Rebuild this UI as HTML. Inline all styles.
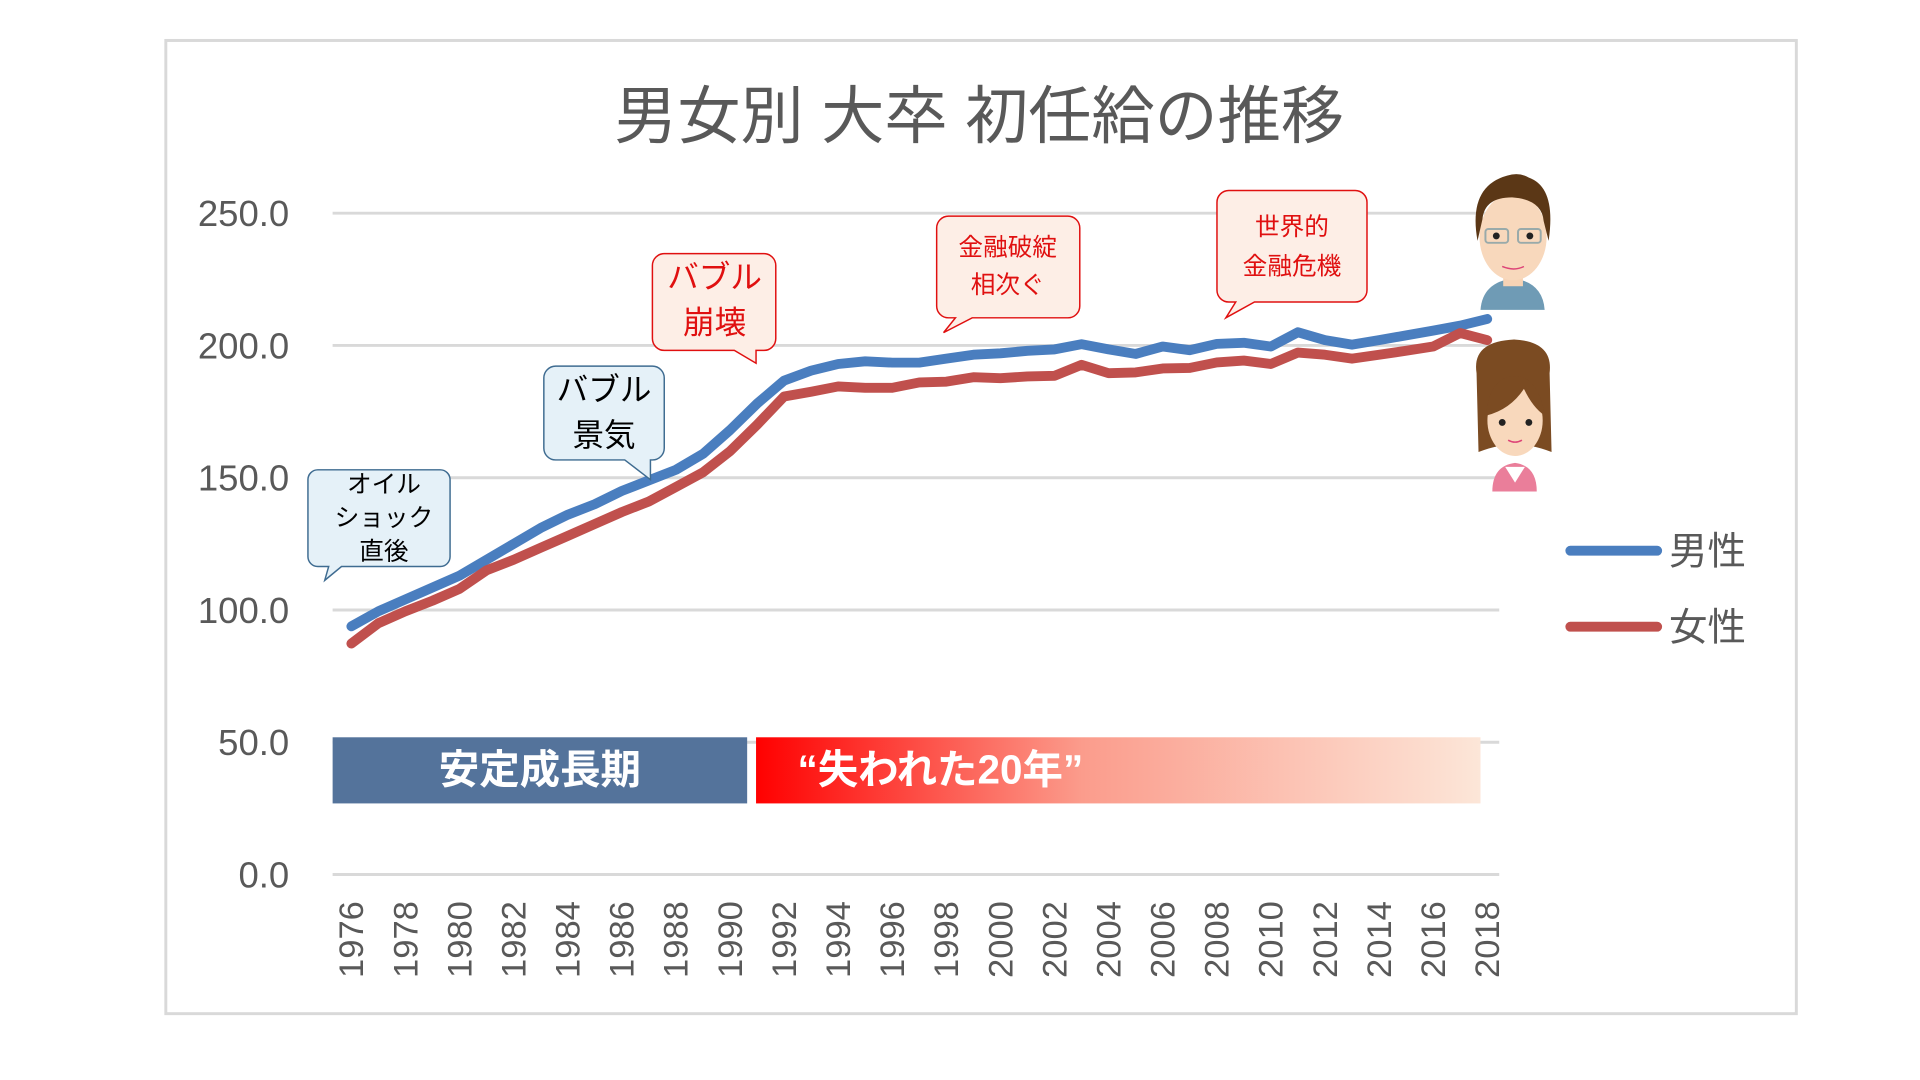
<!DOCTYPE html>
<html><head><meta charset="utf-8"><style>
html,body{margin:0;padding:0;background:#fff;}
svg{display:block;}
text{font-family:"Liberation Sans","Noto Sans CJK JP",sans-serif;}
</style></head><body>
<svg width="1920" height="1080" viewBox="0 0 1920 1080" xmlns="http://www.w3.org/2000/svg">
<defs>
<linearGradient id="rg" x1="0" x2="1" y1="0" y2="0">
<stop offset="0" stop-color="#ff0000"/><stop offset="0.45" stop-color="#fb9c8c"/><stop offset="1" stop-color="#fce6d8"/>
</linearGradient>
</defs>
<g transform="scale(0.987)">
<rect x="168" y="41" width="1652" height="986" fill="#fff" stroke="#d9d9d9" stroke-width="3"/>
<text x="992" y="140" font-size="64" fill="#595959" text-anchor="middle">男女別 大卒 初任給の推移</text>
<g stroke="#d9d9d9" stroke-width="3">
<line x1="337" x2="1519" y1="216" y2="216"/><line x1="337" x2="1519" y1="350" y2="350"/>
<line x1="337" x2="1519" y1="484" y2="484"/><line x1="337" x2="1519" y1="618" y2="618"/>
<line x1="337" x2="1519" y1="752" y2="752"/><line x1="337" x2="1519" y1="886" y2="886"/>
</g>
<g font-size="37" fill="#595959" text-anchor="end">
<text x="293" y="229">250.0</text><text x="293" y="363">200.0</text><text x="293" y="497">150.0</text>
<text x="293" y="631">100.0</text><text x="293" y="765">50.0</text><text x="293" y="899">0.0</text>
</g>
<g font-size="35" fill="#595959" text-anchor="end" id="xl"></g>
<rect x="337" y="747" width="420" height="67" fill="#54739b"/>
<rect x="766" y="747" width="734" height="67" fill="url(#rg)"/>
<text x="547" y="794" font-size="41" font-weight="bold" fill="#fff" text-anchor="middle">安定成長期</text>
<text x="808" y="794" font-size="41" font-weight="bold" fill="#fff">“失われた20年”</text>
<polyline id="m" fill="none" stroke="#4a7ebf" stroke-width="10" stroke-linejoin="round" stroke-linecap="round"/>
<polyline id="f" fill="none" stroke="#c0504d" stroke-width="10" stroke-linejoin="round" stroke-linecap="round"/>
<g font-size="25" text-anchor="middle">
<path d="M334,476 h112 a10,10 0 0 1 10,10 v78 a10,10 0 0 1 -10,10 h-100 l-17,14 l4,-14 h-11 a10,10 0 0 1 -10,-10 v-78 a10,10 0 0 1 10,-10z" fill="#e5f1f8" stroke="#3f6c91" stroke-width="1.5"/>
<text x="389" y="499">オイル</text><text x="389" y="533">ショック</text><text x="389" y="567">直後</text>
<path d="M563,371 h98 a12,12 0 0 1 12,12 v71 a12,12 0 0 1 -12,12 h-2 v20 l-26,-20 h-70 a12,12 0 0 1 -12,-12 v-71 a12,12 0 0 1 12,-12z" fill="#e5f1f8" stroke="#3f6c91" stroke-width="1.5"/>
<text x="612" y="406" font-size="32">バブル</text><text x="612" y="452" font-size="32">景気</text>
<path d="M673,257 h101 a12,12 0 0 1 12,12 v74 a12,12 0 0 1 -12,12 h-8 v13 l-22,-13 h-71 a12,12 0 0 1 -12,-12 v-74 a12,12 0 0 1 12,-12z" fill="#fdeee6" stroke="#e01010" stroke-width="1.5"/>
<text x="724" y="292" font-size="32" fill="#e01010">バブル</text><text x="724" y="338" font-size="32" fill="#e01010">崩壊</text>
<path d="M961,219 h121 a12,12 0 0 1 12,12 v79 a12,12 0 0 1 -12,12 h-97 l-29,15 l12,-15 h-7 a12,12 0 0 1 -12,-12 v-79 a12,12 0 0 1 12,-12z" fill="#fdeee6" stroke="#e01010" stroke-width="1.5"/>
<text x="1021" y="259" fill="#e01010">金融破綻</text><text x="1021" y="297" fill="#e01010">相次ぐ</text>
<path d="M1245,193 h128 a12,12 0 0 1 12,12 v89 a12,12 0 0 1 -12,12 h-102 l-29,16 l10,-16 h-7 a12,12 0 0 1 -12,-12 v-89 a12,12 0 0 1 12,-12z" fill="#fdeee6" stroke="#e01010" stroke-width="1.5"/>
<text x="1309" y="238" fill="#e01010">世界的</text><text x="1309" y="278" fill="#e01010">金融危機</text>
</g>
<g>
<path d="M1500,314 q2,-28 33,-32 q30,4 32,32z" fill="#6f9bb5"/>
<rect x="1523" y="268" width="20" height="22" fill="#f6d3b5"/>
<ellipse cx="1533" cy="240" rx="34" ry="44" fill="#f8d8bc"/>
<path d="M1497,244 q-10,-55 30,-66 q12,-4 22,2 q28,10 20,64 l-5,-20 q-2,-22 -32,-24 q-28,0 -30,22z" fill="#5b3716"/>
<rect x="1505" y="232" width="23" height="14" rx="3" fill="none" stroke="#9aa" stroke-width="2"/>
<rect x="1538" y="232" width="23" height="14" rx="3" fill="none" stroke="#9aa" stroke-width="2"/>
<circle cx="1516" cy="239" r="3.5" fill="#222"/><circle cx="1550" cy="239" r="3.5" fill="#222"/>
<path d="M1522,270 q12,5 22,0" stroke="#d47" stroke-width="1.5" fill="none"/>
</g>
<g transform="translate(0,14)">
<path d="M1496,364 q-5,-32 38,-34 q40,2 36,34 l2,80 q-10,-4 -20,-6 v-30 h-34 v30 q-10,2 -20,6z" fill="#7b4b22"/>
<path d="M1512,484 q0,-26 23,-29 q22,3 22,29z" fill="#ea7e9a"/>
<path d="M1525,459 l10,16 l10,-16z" fill="#fff"/>
<ellipse cx="1535" cy="412" rx="28" ry="36" fill="#f8d8bc"/>
<path d="M1506,407 q2,-40 31,-40 q22,2 28,40 q-12,-8 -21,-27 q-14,21 -38,27z" fill="#7b4b22"/>
<circle cx="1522" cy="414" r="3.5" fill="#222"/><circle cx="1549" cy="414" r="3.5" fill="#222"/>
<path d="M1528,432 q7,4 14,0" stroke="#d47" stroke-width="1.5" fill="none"/>
</g>
<line x1="1591" x2="1679" y1="558" y2="558" stroke="#4a7ebf" stroke-width="10" stroke-linecap="round"/>
<line x1="1591" x2="1679" y1="635" y2="635" stroke="#c0504d" stroke-width="10" stroke-linecap="round"/>
<text x="1691" y="572" font-size="39" fill="#595959">男性</text>
<text x="1691" y="649" font-size="39" fill="#595959">女性</text>
</g>
</svg>
<script>
var m=[93.8,99.5,104,108.5,113,119,125,131,136,140,145,149,153,159,168,178,186.7,190.5,193,194,193.5,193.5,195,196.5,197,198,198.5,200.5,198.5,196.8,199.6,198.2,200.6,201,199.6,205,202,200.3,202,203.8,205.6,207.5,210];
var f=[87.3,95,99.5,103.5,108,115,119,123.5,128,132.5,137,141,146.5,152,160,170,180.7,182.5,184.5,184,184,186,186.3,188,187.6,188.3,188.5,192.7,189.5,189.8,191.3,191.5,193.6,194.3,193,197.3,196.5,195,196.5,198,199.6,204.7,202];
function pts(a){var s=[];for(var i=0;i<a.length;i++){var x=356+i*27.4,y=886-a[i]*2.68;s.push(x.toFixed(1)+","+y.toFixed(1));}return s.join(" ");}
document.getElementById('m').setAttribute('points',pts(m));
document.getElementById('f').setAttribute('points',pts(f));
var g=document.getElementById('xl'),h='';
for(var i=0;i<22;i++){var x=356+i*54.8+12,y=913;h+='<text transform="translate('+x+','+y+') rotate(-90)" x="0" y="0">'+(1976+2*i)+'</text>';}
g.innerHTML=h;
</script>
</body></html>
